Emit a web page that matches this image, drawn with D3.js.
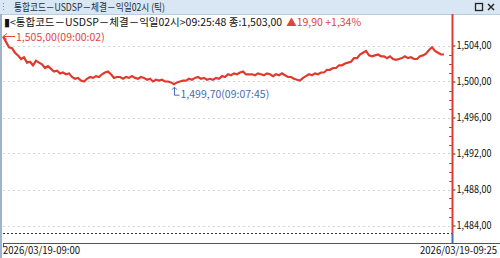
<!DOCTYPE html>
<html>
<head>
<meta charset="utf-8">
<script src="https://cdn.jsdelivr.net/npm/d3@7"></script>
<style>
    body { margin: 0; background: #ffffff; }
    svg { display: block; font-family: "Noto Sans CJK KR", "Noto Sans", sans-serif; }
</style>
</head>
<body>
<div id="chart"></div>
<script>
const width = 500;
const height = 258;

const windowTitle = "통합코드－USDSP－체결－익일02시 (틱)";
const infoText = "▮<통합코드－USDSP－체결－익일02시>09:25:48 종:1,503,00";
const changeText = "▲19,90 +1,34%";
const xTickLabels = ["2026/03/19-09:00", "2026/03/19-09:25"];
const yTicks = [1504, 1500, 1496, 1492, 1488, 1484];
const startLabel = "1,505,00(09:00:02)";
const minLabel = "1,499,70(09:07:45)";

// tick prices, one per trade
const prices = [
    1505.0, 1504.4, 1503.8, 1503.7, 1503.2, 1502.9, 1502.5, 1502.7, 1502.1, 1502.2,
    1501.8, 1502.3, 1502.1, 1501.9, 1501.5, 1501.7, 1501.4, 1501.1, 1501.2, 1500.9,
    1501.0, 1500.8, 1500.9, 1500.5, 1500.3, 1500.4, 1500.1, 1500.0, 1500.3, 1500.5,
    1500.4, 1500.6, 1500.5, 1500.8, 1501.0, 1501.1, 1500.8, 1500.4, 1500.5, 1500.5,
    1500.3, 1500.5, 1500.4, 1500.6, 1500.4, 1500.3, 1500.5, 1500.4, 1500.2, 1500.3,
    1500.0, 1500.2, 1500.1, 1500.2, 1500.0, 1500.0, 1499.9, 1499.7, 1499.9, 1500.0,
    1500.1, 1500.1, 1500.3, 1500.2, 1500.4, 1500.5, 1500.3, 1500.4, 1500.2, 1500.3,
    1500.2, 1500.4, 1500.3, 1500.6, 1500.5, 1500.8, 1500.7, 1500.9, 1500.8, 1501.0,
    1501.1, 1500.8, 1500.8, 1500.8, 1500.7, 1500.9, 1500.8, 1500.7, 1500.9, 1500.8,
    1500.6, 1500.8, 1500.7, 1500.9, 1500.7, 1500.5, 1500.5, 1500.3, 1500.2, 1500.1,
    1500.4, 1500.6, 1500.8, 1500.7, 1500.9, 1500.8, 1501.0, 1501.0, 1501.3, 1501.3,
    1501.5, 1501.5, 1501.8, 1501.8, 1502.0, 1502.1, 1502.2, 1502.6, 1502.6, 1503.0,
    1503.2, 1503.4, 1502.9, 1502.8, 1502.9, 1503.0, 1502.8, 1502.8, 1502.6, 1502.8,
    1502.5, 1502.4, 1502.5, 1502.6, 1502.8, 1502.6, 1502.7, 1502.5, 1502.5, 1502.8,
    1502.9, 1503.1, 1503.5, 1503.8, 1503.4, 1503.2, 1503.0, 1503.0
];
const minIndex = 57;

const lineColor = "#e03a2e";
const markColor = "#e0453a";
const minColor = "#4a6cae";

const plotLeft = 3;
const plotRight = 452;

const xScale = d3.scaleLinear().domain([0, prices.length - 1]).range([3, 444]);
const yScale = d3.scaleLinear().domain([1484, 1504]).range([225.5, 45.5]);

const fmt = v => d3.format(",.2f")(v).replace(/\.(\d\d)$/, ",$1");

const svg = d3.select("#chart")
    .append("svg")
    .attr("width", width)
    .attr("height", height);

// window title bar
svg.append("rect")
    .attr("x", 0).attr("y", 0)
    .attr("width", width).attr("height", 14)
    .attr("fill", "#d8e7f3");

svg.append("line")
    .attr("x1", 0).attr("x2", width)
    .attr("y1", 14.5).attr("y2", 14.5)
    .attr("stroke", "#b8cde0");

svg.selectAll(".grip")
    .data([3, 6, 9])
    .join("rect")
    .attr("class", "grip")
    .attr("x", 3).attr("y", d => d)
    .attr("width", 1).attr("height", 1)
    .attr("fill", "#7d8ea3");

svg.append("text")
    .attr("x", 14).attr("y", 11)
    .attr("font-size", 10)
    .attr("textLength", 151)
    .attr("lengthAdjust", "spacingAndGlyphs")
    .attr("fill", "#1e2a38")
    .text(windowTitle);

svg.append("rect")
    .attr("x", 475.5).attr("y", 3.5)
    .attr("width", 7).attr("height", 7)
    .attr("fill", "none")
    .attr("stroke", "#222")
    .attr("stroke-width", 1.3);

svg.append("path")
    .attr("d", "M488,4 L494,10 M494,4 L488,10")
    .attr("stroke", "#222")
    .attr("stroke-width", 1.4);

// left window edge
svg.append("rect")
    .attr("x", 0).attr("y", 14)
    .attr("width", 2).attr("height", height - 14)
    .attr("fill", "#9fb3cc");

// info line
const info = svg.append("text")
    .attr("x", 4).attr("y", 26)
    .attr("font-size", 10.5);

info.append("tspan")
    .attr("fill", "#111")
    .text(infoText);

info.append("tspan")
    .attr("fill", "#e0453a")
    .attr("dx", 4)
    .text(changeText);

// gridlines
svg.selectAll(".grid")
    .data(yTicks)
    .join("line")
    .attr("class", "grid")
    .attr("x1", plotLeft).attr("x2", plotRight)
    .attr("y1", d => Math.round(yScale(d)) + 0.5)
    .attr("y2", d => Math.round(yScale(d)) + 0.5)
    .attr("stroke", "#d6d6d6")
    .attr("stroke-dasharray", "2,3");

// base dashed line
svg.append("line")
    .attr("x1", plotLeft).attr("x2", plotRight)
    .attr("y1", 233.5).attr("y2", 233.5)
    .attr("stroke", "#333")
    .attr("stroke-dasharray", "2,2");

// bottom axis
svg.append("line")
    .attr("x1", plotLeft).attr("x2", width)
    .attr("y1", 243.5).attr("y2", 243.5)
    .attr("stroke", "#555");

svg.append("line")
    .attr("x1", plotLeft + 0.5).attr("x2", plotLeft + 0.5)
    .attr("y1", 243).attr("y2", 247)
    .attr("stroke", "#555");

svg.append("text")
    .attr("x", plotLeft).attr("y", 254)
    .attr("font-size", 10)
    .attr("textLength", 77)
    .attr("lengthAdjust", "spacingAndGlyphs")
    .attr("fill", "#111")
    .text(xTickLabels[0]);

svg.append("text")
    .attr("x", 420).attr("y", 254)
    .attr("font-size", 10)
    .attr("textLength", 77)
    .attr("lengthAdjust", "spacingAndGlyphs")
    .attr("fill", "#111")
    .text(xTickLabels[1]);

// right price axis
const yAxis = svg.append("g")
    .attr("transform", `translate(${plotRight + 0.5}, 0)`)
    .call(d3.axisRight(yScale)
        .tickValues(yTicks)
        .tickSize(3)
        .tickPadding(1)
        .tickFormat(fmt));

yAxis.select(".domain").remove();
yAxis.selectAll(".tick line").attr("stroke", "#333");
yAxis.selectAll(".tick text")
    .attr("font-size", 10.5)
    .attr("textLength", 35)
    .attr("lengthAdjust", "spacingAndGlyphs")
    .attr("fill", "#111")
    .attr("font-family", "\"Noto Sans CJK KR\", sans-serif");

svg.append("line")
    .attr("x1", plotRight + 0.5).attr("x2", plotRight + 0.5)
    .attr("y1", 14).attr("y2", 233)
    .attr("stroke", "#e03a2e")
    .attr("stroke-width", 2);

svg.append("line")
    .attr("x1", plotRight + 0.5).attr("x2", plotRight + 0.5)
    .attr("y1", 233).attr("y2", 243)
    .attr("stroke", "#4a6cae")
    .attr("stroke-width", 2);

// minor red ticks on the price axis
const minorTicks = d3.range(1484, 1505, 1).filter(d => !yTicks.includes(d));
svg.selectAll(".minor")
    .data(minorTicks)
    .join("line")
    .attr("class", "minor")
    .attr("x1", plotRight - 3).attr("x2", plotRight)
    .attr("y1", d => Math.round(yScale(d)) + 0.5)
    .attr("y2", d => Math.round(yScale(d)) + 0.5)
    .attr("stroke", "#e03a2e");

// price line
const line = d3.line()
    .x((d, i) => xScale(i))
    .y(d => yScale(d));

svg.append("path")
    .datum(prices)
    .attr("d", line)
    .attr("fill", "none")
    .attr("stroke", lineColor)
    .attr("stroke-width", 2.2)
    .attr("stroke-linejoin", "miter");

// start marker
const sx = xScale(0);
const sy = yScale(prices[0]);
svg.append("path")
    .attr("d", `M${sx},${sy} L${sx + 12},${sy} M${sx + 4},${sy - 3} L${sx},${sy} L${sx + 4},${sy + 3}`)
    .attr("stroke", markColor)
    .attr("fill", "none");

svg.append("text")
    .attr("x", sx + 13).attr("y", sy + 4)
    .attr("font-size", 10.5)
    .attr("fill", markColor)
    .text(startLabel);

// low marker
const mx = Math.round(xScale(minIndex)) + 0.5;
const my = yScale(prices[minIndex]);
svg.append("path")
    .attr("d", `M${mx},${my + 3} L${mx},${my + 11} L${mx + 5},${my + 11} M${mx - 2.5},${my + 5.5} L${mx},${my + 3} L${mx + 2.5},${my + 5.5}`)
    .attr("stroke", minColor)
    .attr("fill", "none");

svg.append("text")
    .attr("x", mx + 6).attr("y", my + 14)
    .attr("font-size", 10.5)
    .attr("fill", minColor)
    .text(minLabel);
</script>
</body>
</html>
